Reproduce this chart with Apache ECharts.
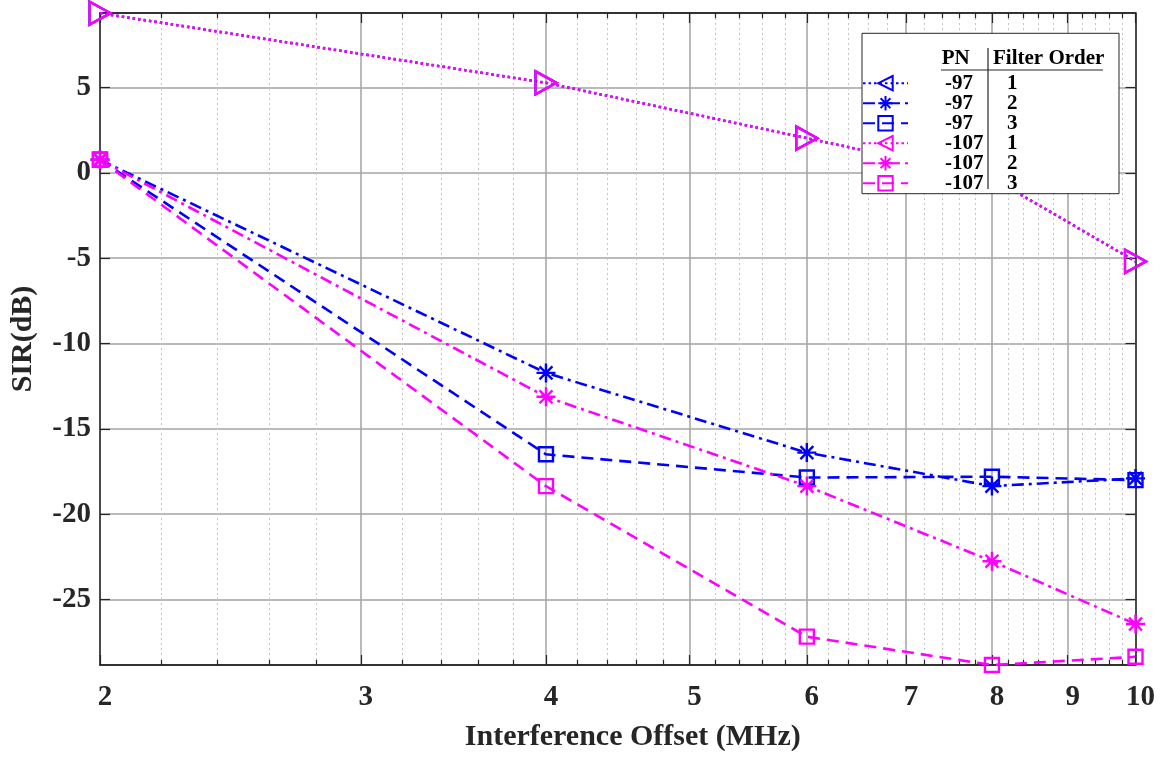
<!DOCTYPE html>
<html>
<head>
<meta charset="utf-8">
<script src="https://cdn.jsdelivr.net/npm/echarts@6/dist/echarts.min.js"></script>
<style>
  html, body { margin: 0; padding: 0; background: #fff; }
  #chart { width: 1164px; height: 757px; }
</style>
</head>
<body>
<div id="chart"></div>
<script>
// Interference offset (MHz) on a log axis
const offsets = [2, 4, 6, 8, 10];

// SIR (dB) per phase-noise level (PN) and filter order
const pn97_order1  = [9.35, 5.27, 2.03, -0.30, -5.19];
const pn97_order2  = [0.76, -11.72, -16.39, -18.35, -17.90];
const pn97_order3  = [0.76, -16.49, -17.85, -17.80, -18.00];
const pn107_order1 = [9.35, 5.27, 2.03, -0.30, -5.19];
const pn107_order2 = [0.76, -13.12, -18.35, -22.75, -26.43];
const pn107_order3 = [0.76, -18.35, -27.17, -28.83, -28.35];

// Axis ticks
const xMajorTicks = [2, 3, 4, 5, 6, 7, 8, 9, 10];
const xMinorTicks = [2.2, 2.4, 2.6, 2.8, 3.2, 3.4, 3.6, 3.8, 4.2, 4.4, 4.6, 4.8,
                     5.2, 5.4, 5.6, 5.8, 6.2, 6.4, 6.6, 6.8, 7.2, 7.4, 7.6, 7.8,
                     8.2, 8.4, 8.6, 8.8, 9.2, 9.4, 9.6, 9.8];
const yTicks = [-25, -20, -15, -10, -5, 0, 5];
const yRange = [-28.83, 9.36];

// Legend table columns
const pnColumn = ['-97', '-97', '-97', '-107', '-107', '-107'];
const orderColumn = ['1', '2', '3', '1', '2', '3'];

const BLUE = '#0000ff';
const MAGENTA = '#ff00ff';
const AXIS = '#262626';
const FONT = "'Liberation Serif', 'Times New Roman', serif";

const TRI = 'path://M10,0 L0,5 L10,10 Z';          // left-pointing, rotated in the plot
const STAR = 'path://M5,0 L5,10 M0,5 L10,5 M1.6,1.6 L8.4,8.4 M8.4,1.6 L1.6,8.4';
const SQUARE = 'path://M0,0 L10,0 L10,10 L0,10 Z';

const dotted = [2.5, 3];
const dashDot = [12, 5, 3, 5];
const dashed = [12, 7];

function makeSeries(idx, values, color, symbol, size, rotate, dash) {
  return {
    name: pnColumn[idx] + '|' + orderColumn[idx],
    type: 'line',
    xAxisIndex: 0,
    yAxisIndex: 0,
    data: offsets.map((x, i) => [x, values[i]]),
    symbol: symbol,
    symbolSize: size,
    symbolRotate: rotate,
    symbolKeepAspect: true,
    clip: false,
    lineStyle: { color: color, width: 2.6, type: dash },
    itemStyle: { color: 'rgba(0,0,0,0)', borderColor: color, borderWidth: 2.4 },
    emphasis: { disabled: true },
    animation: false
  };
}

const series = [
  makeSeries(0, pn97_order1, BLUE, TRI, [21, 23], 180, dotted),
  makeSeries(1, pn97_order2, BLUE, STAR, 19, 0, dashDot),
  makeSeries(2, pn97_order3, BLUE, SQUARE, 14, 0, dashed),
  makeSeries(3, pn107_order1, MAGENTA, TRI, [21, 23], 180, dotted),
  makeSeries(4, pn107_order2, MAGENTA, STAR, 19, 0, dashDot),
  makeSeries(5, pn107_order3, MAGENTA, SQUARE, 14, 0, dashed)
];

function logX(position, ticks, tickLen, withLabels, split) {
  return {
    type: 'log',
    logBase: 10,
    min: 2,
    max: 10,
    position: position,
    axisLine: { show: true, onZero: false, lineStyle: { color: AXIS, width: 1.5 } },
    axisTick: { show: true, inside: true, length: tickLen, customValues: ticks,
                lineStyle: { color: AXIS, width: 1.2 } },
    axisLabel: withLabels ? {
      show: true, customValues: ticks, margin: 18,
      color: AXIS, fontFamily: FONT, fontWeight: 'bold', fontSize: 29,
      padding: [0, 0, 0, 10]
    } : { show: false },
    splitLine: split,
    minorTick: { show: false },
    minorSplitLine: { show: false }
  };
}

const majorSplit = { show: true, lineStyle: { color: '#a3a3a3', width: 1.5, type: 'solid' } };
const minorSplit = { show: true, lineStyle: { color: '#c4c4c4', width: 1, type: [2, 3] } };

const xAxes = [
  Object.assign(logX('bottom', xMajorTicks, 10, true, majorSplit), {
    name: 'Interference Offset (MHz)',
    nameLocation: 'middle',
    nameGap: 57,
    nameTextStyle: { color: AXIS, fontFamily: FONT, fontWeight: 'bold', fontSize: 30,
                     padding: [0, 0, 0, 30] }
  }),
  logX('bottom', xMinorTicks, 5, false, minorSplit),
  logX('top', xMajorTicks, 10, false, { show: false }),
  logX('top', xMinorTicks, 5, false, { show: false })
];

function valueY(position, withLabels) {
  return {
    type: 'value',
    min: yRange[0],
    max: yRange[1],
    position: position,
    axisLine: { show: true, onZero: false, lineStyle: { color: AXIS, width: 1.5 } },
    axisTick: { show: true, inside: true, length: 10, customValues: yTicks,
                lineStyle: { color: AXIS, width: 1.2 } },
    axisLabel: withLabels ? {
      show: true, customValues: yTicks, margin: 9,
      color: AXIS, fontFamily: FONT, fontWeight: 'bold', fontSize: 29
    } : { show: false },
    splitLine: withLabels ? majorSplit : { show: false }
  };
}

const yAxes = [
  Object.assign(valueY('left', true), {
    name: 'SIR(dB)',
    nameLocation: 'middle',
    nameGap: 62,
    nameTextStyle: { color: AXIS, fontFamily: FONT, fontWeight: 'bold', fontSize: 30 }
  }),
  valueY('right', false)
];

const chart = echarts.init(document.getElementById('chart'), null, { renderer: 'canvas' });

chart.setOption({
  backgroundColor: '#ffffff',
  animation: false,
  grid: { left: 100, right: 28.5, top: 13, bottom: 90.7, containLabel: false },
  xAxis: xAxes,
  yAxis: yAxes,
  legend: {
    orient: 'vertical',
    left: 862,
    top: 33.3,
    padding: [39.4, 12, 0, 0],
    itemWidth: 45,
    itemHeight: 18,
    itemGap: -1,
    symbolRotate: 0,
    backgroundColor: '#ffffff',
    borderColor: AXIS,
    borderWidth: 1,
    selectedMode: false,
    z: 10,
    data: series.map(s => s.name),
    formatter: function (name) {
      const parts = name.split('|');
      return '{gap|}{pn|' + parts[0] + '}{ord|' + parts[1] + '}';
    },
    textStyle: {
      fontFamily: FONT, fontWeight: 'bold', fontSize: 21, color: '#000',
      rich: {
        gap: { width: 32, lineHeight: 18 },
        pn:  { width: 62, lineHeight: 18, fontFamily: FONT, fontWeight: 'bold', fontSize: 21, color: '#000' },
        ord: { width: 100, lineHeight: 18, fontFamily: FONT, fontWeight: 'bold', fontSize: 21, color: '#000' }
      }
    }
  },
  graphic: [
    { type: 'text', z: 100, left: 941.7, top: 48,
      style: { text: 'PN', fill: '#000', font: "bold 21px 'Liberation Serif', serif" } },
    { type: 'text', z: 100, left: 993, top: 48,
      style: { text: 'Filter Order', fill: '#000', font: "bold 21px 'Liberation Serif', serif" } },
    { type: 'line', z: 100, shape: { x1: 941, y1: 70, x2: 1103, y2: 70 },
      style: { stroke: AXIS, lineWidth: 1.2 } },
    { type: 'line', z: 100, shape: { x1: 988, y1: 48, x2: 988, y2: 189 },
      style: { stroke: AXIS, lineWidth: 1.2 } }
  ],
  series: series
});
</script>
</body>
</html>
